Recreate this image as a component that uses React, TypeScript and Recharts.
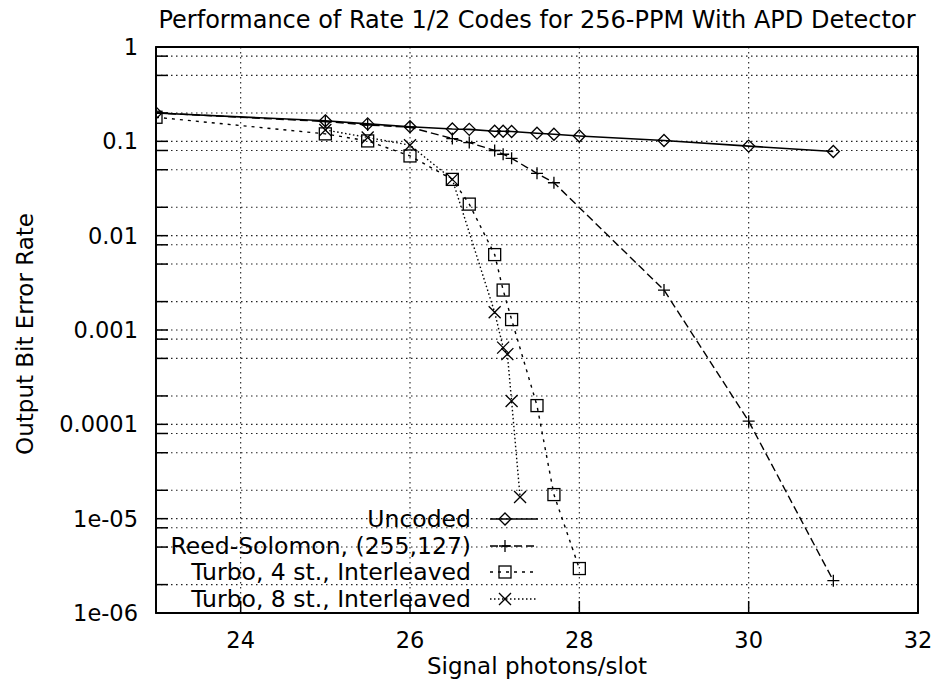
import React from 'react';
import { LineChart, Line, XAxis, YAxis, CartesianGrid, Legend, ReferenceArea } from 'recharts';

const FONT = '"DejaVu Sans", sans-serif';

// Signal photons/slot (x) and output bit error rate (y) for each code
const uncodedX = [23, 25, 25.5, 26, 26.5, 26.7, 27, 27.1, 27.2, 27.5, 27.7, 28, 29, 30, 31];
const uncodedBER = [0.2, 0.165, 0.153, 0.143, 0.135, 0.134, 0.128, 0.128, 0.127, 0.122, 0.119, 0.114, 0.102, 0.089, 0.078];

const rsX = [23, 25, 25.5, 26, 26.5, 26.7, 27, 27.1, 27.2, 27.5, 27.7, 29, 30, 31];
const rsBER = [0.2, 0.162, 0.149, 0.141, 0.107, 0.097, 0.08, 0.073, 0.066, 0.0458, 0.0364, 0.00265, 0.000108, 2.2e-6];

const turbo4X = [23, 25, 25.5, 26, 26.5, 26.7, 27, 27.1, 27.2, 27.5, 27.7, 28];
const turbo4BER = [0.18, 0.12, 0.101, 0.07, 0.0395, 0.0216, 0.0063, 0.00265, 0.00129, 0.000158, 1.8e-5, 2.96e-6];

const turbo8X = [25, 25.5, 26, 26.5, 27, 27.1, 27.15, 27.2, 27.3];
const turbo8BER = [0.132, 0.11, 0.091, 0.0395, 0.00154, 0.00065, 0.000555, 0.000177, 1.7e-5];

const xTicks = [24, 26, 28, 30, 32];
const yMajorTicks = [1e-6, 1e-5, 1e-4, 1e-3, 1e-2, 1e-1, 1];
const yMajorLabels = ['1e-06', '1e-05', '0.0001', '0.001', '0.01', '0.1', '1'];
const yMinorTicks = [
  2e-6, 5e-6, 8e-6, 2e-5, 5e-5, 8e-5, 2e-4, 5e-4, 8e-4,
  2e-3, 5e-3, 8e-3, 2e-2, 5e-2, 8e-2, 0.2, 0.5, 0.8,
];

const seriesNames = ['Uncoded', 'Reed-Solomon, (255,127)', 'Turbo, 4 st., Interleaved', 'Turbo, 8 st., Interleaved'];

const TITLE = 'Performance of Rate 1/2 Codes for 256-PPM With APD Detector';
const X_LABEL = 'Signal photons/slot';
const Y_LABEL = 'Output Bit Error Rate';

const toRows = (xs: number[], ys: number[]) => xs.map((x, i) => ({ x, ber: ys[i] }));
const uncodedData = toRows(uncodedX, uncodedBER);
const rsData = toRows(rsX, rsBER);
const turbo4Data = toRows(turbo4X, turbo4BER);
const turbo8Data = toRows(turbo8X, turbo8BER);

const yTicks = [...yMajorTicks, ...yMinorTicks].sort((a, b) => a - b);
const yFormat = (v: number) => {
  const i = yMajorTicks.findIndex((m) => Math.abs(m - v) / m < 1e-6);
  return i >= 0 ? yMajorLabels[i] : '';
};

type Kind = 'diamond' | 'plus' | 'box' | 'cross';
const STYLES: { kind: Kind; dash?: string; width: number }[] = [
  { kind: 'diamond', dash: undefined, width: 1.6 },
  { kind: 'plus', dash: '8 4', width: 1.4 },
  { kind: 'box', dash: '3 5', width: 1.4 },
  { kind: 'cross', dash: '1.5 2.5', width: 1.4 },
];

function Marker({ kind, cx, cy }: { kind: Kind; cx: number; cy: number }) {
  if (cx == null || cy == null || isNaN(cx) || isNaN(cy)) return <g />;
  const s = 6;
  const common = { stroke: '#000', strokeWidth: 1.3, fill: 'none' };
  if (kind === 'diamond')
    return <path d={`M${cx},${cy - s}L${cx + s},${cy}L${cx},${cy + s}L${cx - s},${cy}Z`} {...common} />;
  if (kind === 'plus')
    return <path d={`M${cx - s},${cy}L${cx + s},${cy}M${cx},${cy - s}L${cx},${cy + s}`} {...common} />;
  if (kind === 'box') return <rect x={cx - s} y={cy - s} width={2 * s} height={2 * s} {...common} />;
  return <path d={`M${cx - s},${cy - s}L${cx + s},${cy + s}M${cx - s},${cy + s}L${cx + s},${cy - s}`} {...common} />;
}

const dotFor = (kind: Kind) => (p: any) => (
  <g key={`${kind}-${p.index}`}>
    <Marker kind={kind} cx={p.cx} cy={p.cy} />
  </g>
);

function LegendBox() {
  return (
    <div style={{ fontFamily: FONT, fontSize: 23.5, color: '#000' }}>
      {seriesNames.map((name, i) => (
        <div key={name} style={{ display: 'flex', alignItems: 'center', height: 26.6, lineHeight: '26.6px' }}>
          <span style={{ width: 311, textAlign: 'right', whiteSpace: 'nowrap' }}>{name}</span>
          <svg width={60} height={26} style={{ marginLeft: 17 }}>
            <line x1={2} x2={50} y1={13} y2={13} stroke="#000" strokeWidth={STYLES[i].width} strokeDasharray={STYLES[i].dash} />
            <Marker kind={STYLES[i].kind} cx={17} cy={13} />
          </svg>
        </div>
      ))}
    </div>
  );
}

const axisLine = { stroke: '#000', strokeWidth: 1.8 };
const tickLine = { stroke: '#000', strokeWidth: 1.5 };
const tickFont = { fill: '#000', fontSize: 22.5, fontFamily: FONT };

export default function App() {
  return (
    <div style={{ position: 'absolute', left: 0, top: 0, width: 939, height: 687, background: '#fff' }}>
      <div
        style={{
          position: 'absolute', left: 156, top: 8, width: 762, textAlign: 'center',
          fontFamily: FONT, fontSize: 24, lineHeight: '24px', color: '#000', whiteSpace: 'nowrap',
        }}
      >
        {TITLE}
      </div>
      <LineChart width={939} height={687} margin={{ top: 0, right: 0, bottom: 0, left: 0 }}>
        <CartesianGrid stroke="#222" strokeWidth={1.1} strokeDasharray="1.5 3.5" />
        <XAxis
          type="number" dataKey="x" domain={[23, 32]} allowDataOverflow ticks={xTicks} interval={0}
          height={74} tickSize={-12} tickMargin={31} axisLine={axisLine} tickLine={tickLine} tick={tickFont}
          label={(props: any) => {
            const vb = props.viewBox;
            return (
              <text x={vb.x + vb.width / 2} y={vb.y + 61} textAnchor="middle" fontFamily={FONT} fontSize={23} fill="#000">
                {X_LABEL}
              </text>
            );
          }}
        />
        <XAxis
          xAxisId="top" orientation="top" type="number" domain={[23, 32]} allowDataOverflow ticks={xTicks}
          interval={0} height={47} tickSize={-12} axisLine={axisLine} tickLine={tickLine} tick={false}
        />
        <YAxis
          type="number" scale="log" domain={[1e-6, 1]} allowDataOverflow ticks={yTicks} interval={0}
          tickFormatter={yFormat} width={156} tickSize={-12} tickMargin={30} axisLine={axisLine}
          tickLine={tickLine} tick={tickFont}
          label={(props: any) => {
            const vb = props.viewBox;
            const cx = vb.x + 33;
            const cy = vb.y + vb.height / 2 + 4;
            return (
              <text x={cx} y={cy} transform={`rotate(-90, ${cx}, ${cy})`} textAnchor="middle" fontFamily={FONT} fontSize={23} fill="#000">
                {Y_LABEL}
              </text>
            );
          }}
        />
        <YAxis
          yAxisId="right" orientation="right" type="number" scale="log" domain={[1e-6, 1]} allowDataOverflow
          ticks={yTicks} interval={0} width={21} tickSize={-12} axisLine={axisLine} tickLine={tickLine} tick={false}
        />
        <ReferenceArea x1={23} x2={32} y1={1e-6} y2={1} fill="none" stroke="#000" strokeWidth={1.8} ifOverflow="visible" />
        <Legend
          layout="vertical" align="center" verticalAlign="middle"
          wrapperStyle={{ left: 160, top: 506, width: 400, height: 108 }}
          content={() => <LegendBox />}
        />
        <Line data={turbo8Data} dataKey="ber" name={seriesNames[3]} stroke="#000" strokeWidth={STYLES[3].width}
          strokeDasharray={STYLES[3].dash} dot={dotFor('cross')} activeDot={false} isAnimationActive={false} />
        <Line data={turbo4Data} dataKey="ber" name={seriesNames[2]} stroke="#000" strokeWidth={STYLES[2].width}
          strokeDasharray={STYLES[2].dash} dot={dotFor('box')} activeDot={false} isAnimationActive={false} />
        <Line data={rsData} dataKey="ber" name={seriesNames[1]} stroke="#000" strokeWidth={STYLES[1].width}
          strokeDasharray={STYLES[1].dash} dot={dotFor('plus')} activeDot={false} isAnimationActive={false} />
        <Line data={uncodedData} dataKey="ber" name={seriesNames[0]} stroke="#000" strokeWidth={STYLES[0].width}
          dot={dotFor('diamond')} activeDot={false} isAnimationActive={false} />
      </LineChart>
    </div>
  );
}
